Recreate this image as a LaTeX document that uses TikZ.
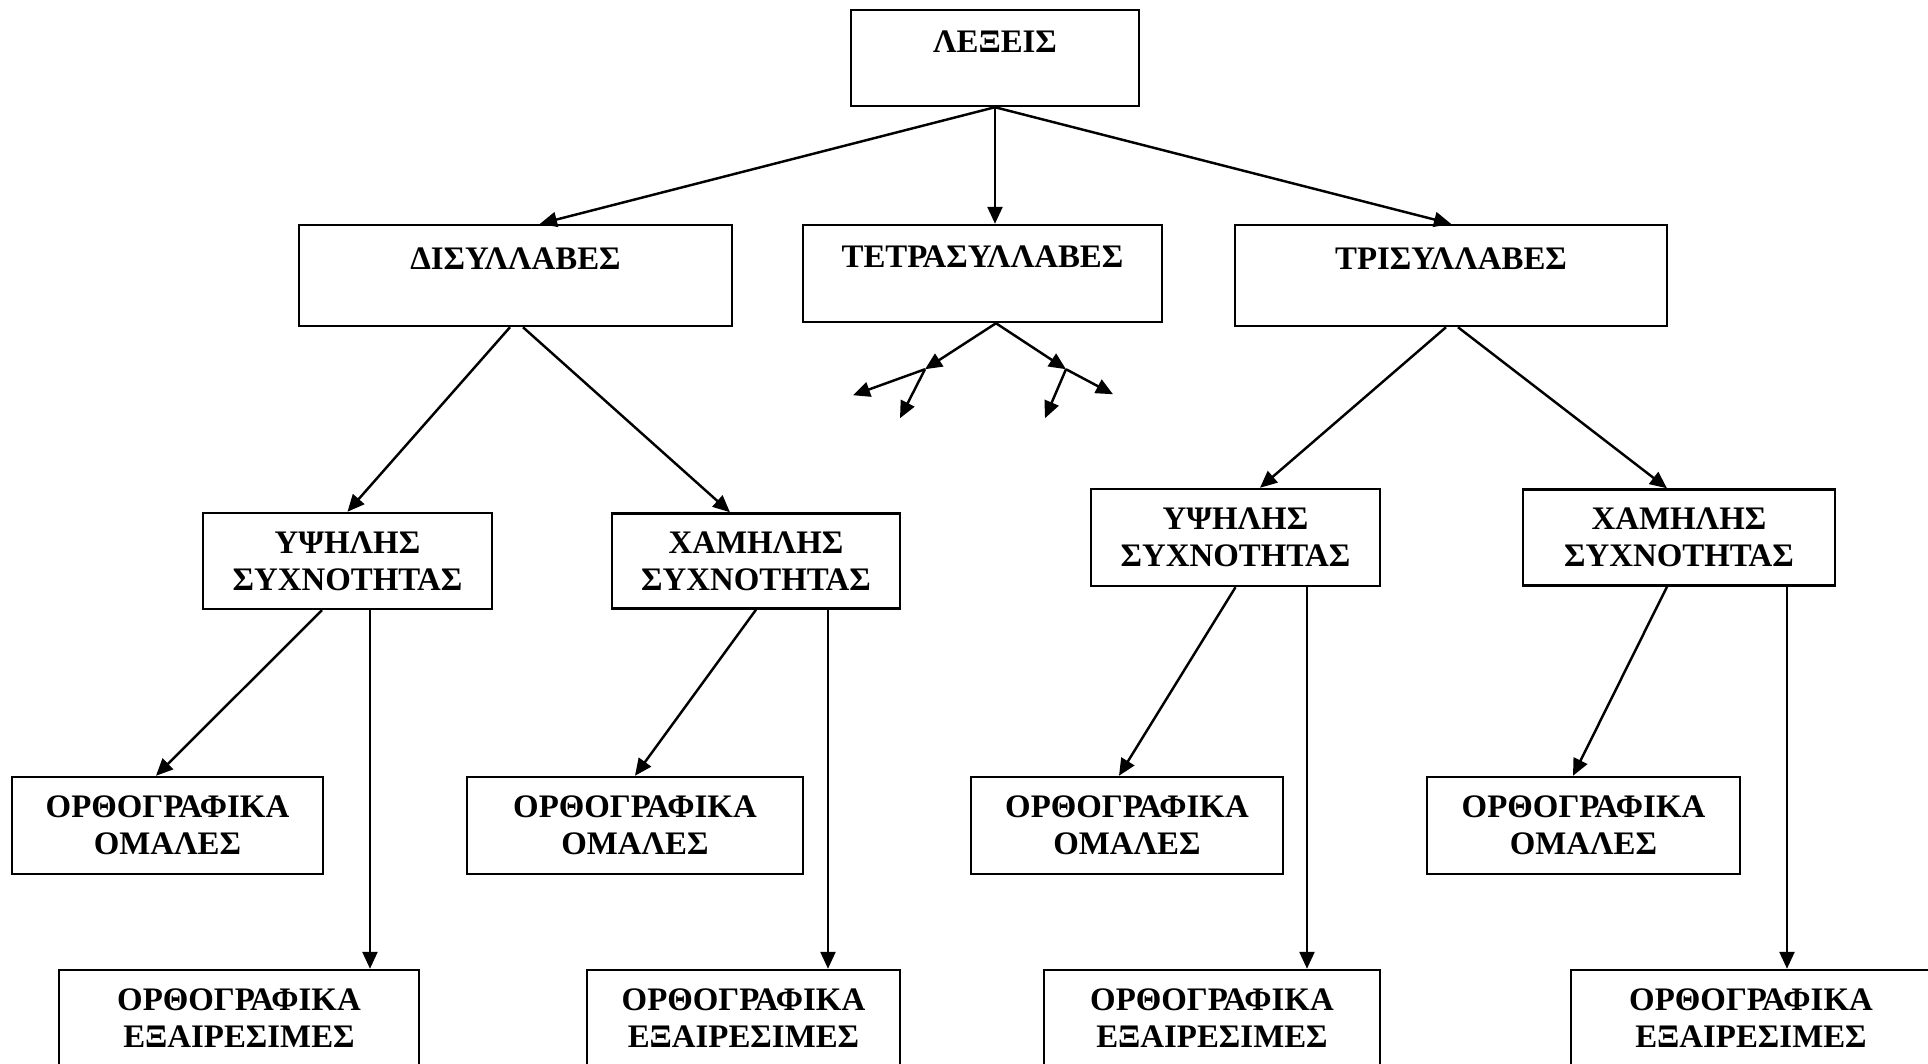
\documentclass[tikz,border=0pt]{standalone}
\usepackage{fontspec}
\setmainfont{Liberation Serif}
\usepackage{tikz}
\usetikzlibrary{arrows.meta, positioning}
\tikzset{
    boxnode/.style = {draw, rectangle, line width=1.4pt, inner sep=0.2em, node distance=0em,
      align=center, font=\fontsize{18.7pt}{21pt}\selectfont\bfseries},
    onebox/.style = {boxnode, text height=12.5pt, text depth=19pt},
    connect/.style = {black, line width=1.4pt, -{Triangle[length=0.34cm, width=0.3cm]}}
}

\begin{document}
\begin{tikzpicture}
    \node [name=lexeis, onebox, minimum width=5.76cm, minimum height=1.92cm] at (0,0) {ΛΕΞΕΙΣ};
    \useasboundingbox (-19.9,1.16) rectangle (18.66,-20.12);

    \node [name=disyl, onebox, minimum width=8.66cm, minimum height=2.02cm,
        below of = lexeis, xshift=-9.59cm, yshift=-4.35cm] {ΔΙΣΥΛΛΑΒΕΣ};
    \node [name=tetra, onebox, minimum width=7.18cm, minimum height=1.94cm,
        below of = lexeis, xshift=-0.25cm, yshift=-4.31cm] {ΤΕΤΡΑΣΥΛΛΑΒΕΣ};
    \node [name=trisyl, onebox, minimum width=8.64cm, minimum height=2.02cm,
        below of = lexeis, xshift=9.12cm, yshift=-4.35cm] {ΤΡΙΣΥΛΛΑΒΕΣ};

    \draw (lexeis.south) edge[connect] ([xshift=0.49cm]disyl.north);
    \draw (lexeis.south) edge[connect] (lexeis.south |- tetra.north);
    \draw (lexeis.south) edge[connect] (trisyl.north);

    % frequency
    \node [name=ypsL, boxnode, minimum width=5.78cm, minimum height=1.92cm,
        below of = lexeis, xshift=-12.95cm, yshift=-10.06cm] {ΥΨΗΛΗΣ\\ΣΥΧΝΟΤΗΤΑΣ};
    \node [name=xamL, boxnode, minimum width=5.76cm, minimum height=1.90cm,
        below of = lexeis, xshift=-4.78cm, yshift=-10.06cm] {ΧΑΜΗΛΗΣ\\ΣΥΧΝΟΤΗΤΑΣ};
    \node [name=ypsR, boxnode, minimum width=5.78cm, minimum height=1.94cm,
        below of = lexeis, xshift=4.81cm, yshift=-9.59cm] {ΥΨΗΛΗΣ\\ΣΥΧΝΟΤΗΤΑΣ};
    \node [name=xamR, boxnode, minimum width=6.24cm, minimum height=1.92cm,
        below of = lexeis, xshift=13.68cm, yshift=-9.59cm] {ΧΑΜΗΛΗΣ\\ΣΥΧΝΟΤΗΤΑΣ};

    \draw ([xshift=-0.11cm]disyl.south) edge[connect] (ypsL.north);
    \draw ([xshift=0.15cm]disyl.south) edge[connect] ([xshift=-0.52cm]xamL.north);
    \draw ([xshift=-0.1cm]trisyl.south) edge[connect] ([xshift=0.49cm]ypsR.north);
    \draw ([xshift=0.14cm]trisyl.south) edge[connect] ([xshift=-0.24cm]xamR.north);

    % four syllables
    \coordinate (tetraS) at ([xshift=0.27cm]tetra.south);
    \coordinate (tetraA) at ([xshift=-1.15cm, yshift=-0.92cm]tetra.south);
    \coordinate (tetraB) at ([xshift=1.67cm, yshift=-0.92cm]tetra.south);
    \coordinate (tetraA1) at ([xshift=-2.59cm, yshift=-1.44cm]tetra.south);
    \coordinate (tetraA2) at ([xshift=-1.65cm, yshift=-1.90cm]tetra.south);
    \coordinate (tetraB1) at ([xshift=2.61cm, yshift=-1.42cm]tetra.south);
    \coordinate (tetraB2) at ([xshift=1.25cm, yshift=-1.90cm]tetra.south);
    \draw (tetraS) edge[connect] (tetraA);
    \draw (tetraS) edge[connect] (tetraB);
    \draw (tetraA) edge[connect] (tetraA1);
    \draw (tetraA) edge[connect] (tetraA2);
    \draw (tetraB) edge[connect] (tetraB1);
    \draw (tetraB) edge[connect] (tetraB2);

    % spelling
    \node [name=omal1, boxnode, minimum width=6.22cm, minimum height=1.94cm,
        below of = lexeis, xshift=-16.55cm, yshift=-15.35cm] {ΟΡΘΟΓΡΑΦΙΚΑ\\ΟΜΑΛΕΣ};
    \node [name=omal2, boxnode, minimum width=6.72cm, minimum height=1.94cm,
        below of = lexeis, xshift=-7.20cm, yshift=-15.35cm] {ΟΡΘΟΓΡΑΦΙΚΑ\\ΟΜΑΛΕΣ};
    \node [name=omal3, boxnode, minimum width=6.24cm, minimum height=1.94cm,
        below of = lexeis, xshift=2.64cm, yshift=-15.35cm] {ΟΡΘΟΓΡΑΦΙΚΑ\\ΟΜΑΛΕΣ};
    \node [name=omal4, boxnode, minimum width=6.26cm, minimum height=1.94cm,
        below of = lexeis, xshift=11.77cm, yshift=-15.35cm] {ΟΡΘΟΓΡΑΦΙΚΑ\\ΟΜΑΛΕΣ};

    \node [name=exair1, boxnode, minimum width=7.2cm, minimum height=1.92cm,
        below of = lexeis, xshift=-15.12cm, yshift=-19.20cm] {ΟΡΘΟΓΡΑΦΙΚΑ\\ΕΞΑΙΡΕΣΙΜΕΣ};
    \node [name=exair2, boxnode, minimum width=6.26cm, minimum height=1.92cm,
        below of = lexeis, xshift=-5.03cm, yshift=-19.20cm] {ΟΡΘΟΓΡΑΦΙΚΑ\\ΕΞΑΙΡΕΣΙΜΕΣ};
    \node [name=exair3, boxnode, minimum width=6.72cm, minimum height=1.92cm,
        below of = lexeis, xshift=4.34cm, yshift=-19.20cm] {ΟΡΘΟΓΡΑΦΙΚΑ\\ΕΞΑΙΡΕΣΙΜΕΣ};
    \node [name=exair4, boxnode, minimum width=7.2cm, minimum height=1.92cm,
        below of = lexeis, xshift=15.12cm, yshift=-19.20cm] {ΟΡΘΟΓΡΑΦΙΚΑ\\ΕΞΑΙΡΕΣΙΜΕΣ};

    \draw ([xshift=-0.51cm]ypsL.south) edge[connect] ([xshift=-0.23cm]omal1.north);
    \draw (xamL.south) edge[connect] (omal2.north);
    \draw (ypsR.south) edge[connect] ([xshift=-0.16cm]omal3.north);
    \draw ([xshift=-0.24cm]xamR.south) edge[connect] ([xshift=-0.21cm]omal4.north);

    \coordinate (ypsLd) at ([xshift=0.45cm]ypsL.south);
    \coordinate (xamLd) at ([xshift=1.44cm]xamL.south);
    \coordinate (ypsRd) at ([xshift=1.43cm]ypsR.south);
    \coordinate (xamRd) at ([xshift=2.16cm]xamR.south);
    \draw (ypsLd) edge[connect] (ypsLd |- exair1.north);
    \draw (xamLd) edge[connect] (xamLd |- exair2.north);
    \draw (ypsRd) edge[connect] (ypsRd |- exair3.north);
    \draw (xamRd) edge[connect] (xamRd |- exair4.north);
\end{tikzpicture}
\end{document}
